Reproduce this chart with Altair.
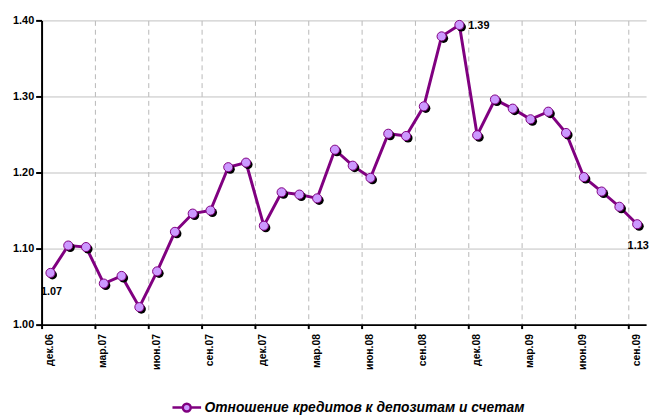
import json
import altair as alt
import pandas as pd

series_name = "Отношение кредитов к депозитам и счетам"

months = ["дек.06", "янв.07", "фев.07", "мар.07", "апр.07", "май.07", "июн.07",
          "июл.07", "авг.07", "сен.07", "окт.07", "ноя.07", "дек.07", "янв.08",
          "фев.08", "мар.08", "апр.08", "май.08", "июн.08", "июл.08", "авг.08",
          "сен.08", "окт.08", "ноя.08", "дек.08", "янв.09", "фев.09", "мар.09",
          "апр.09", "май.09", "июн.09", "июл.09", "авг.09", "сен.09"]

values = [1.068, 1.104, 1.102, 1.054, 1.064, 1.023, 1.070, 1.122, 1.146, 1.150,
          1.207, 1.213, 1.130, 1.174, 1.171, 1.166, 1.230, 1.209, 1.193, 1.251,
          1.248, 1.287, 1.379, 1.394, 1.249, 1.296, 1.284, 1.270, 1.280, 1.252,
          1.194, 1.175, 1.155, 1.132]

tick_labels = ["дек.06", "мар.07", "июн.07", "сен.07", "дек.07", "мар.08",
               "июн.08", "сен.08", "дек.08", "мар.09", "июн.09", "сен.09"]

y_ticks = [1.00, 1.10, 1.20, 1.30, 1.40]

df = pd.DataFrame({"idx": list(range(len(months))), "month": months, "value": values})

FONT = "Liberation Sans"
PURPLE = "#800080"
LIGHT = "#CC99FF"

x_enc = alt.X(
    "xpos:Q",
    scale=alt.Scale(domain=[0, len(months)], nice=False, zero=False),
    axis=alt.Axis(
        values=list(range(0, len(months), 3)),
        labelExpr=json.dumps(tick_labels, ensure_ascii=False) + "[round(datum.value/3)]",
        labelAngle=-90, labelOffset=8,
        labelFont=FONT, labelFontSize=10.5, labelFontWeight="bold", labelColor="black",
        labelPadding=5,
        tickSize=4, tickColor="black", tickWidth=2,
        domainColor="black", domainWidth=2,
        grid=True, gridDash=[5, 4], gridColor="#b8b8b8", gridWidth=1,
        title=None,
    ),
)
y_enc = alt.Y(
    "value:Q",
    scale=alt.Scale(domain=[1.0, 1.4], nice=False, zero=False),
    axis=alt.Axis(
        values=y_ticks, format=".2f",
        labelFont=FONT, labelFontSize=11, labelFontWeight="bold", labelColor="black",
        labelPadding=2,
        tickSize=6, tickColor="black", tickWidth=2,
        domainColor="black", domainWidth=2,
        grid=True, gridColor="#c0c0c0", gridWidth=1,
        title=None,
    ),
)

base = alt.Chart(df).transform_calculate(
    xpos="datum.idx + 0.5", series="'" + series_name + "'"
)

legend_path = ("M-2.9,0H-0.8M0.8,0H2.9"
               "M-0.8,0A0.8,0.8,0,1,0,0.8,0A0.8,0.8,0,1,0,-0.8,0Z")

line = base.mark_line(strokeWidth=3).encode(
    x=x_enc, y=y_enc,
    color=alt.Color(
        "series:N",
        scale=alt.Scale(range=[PURPLE]),
        legend=alt.Legend(
            title=None, orient="none", legendX=140, legendY=385, padding=0,
            symbolType=legend_path, symbolSize=100, symbolStrokeWidth=2.5,
            symbolFillColor=LIGHT, symbolStrokeColor=PURPLE,
            labelFont=FONT, labelFontSize=14, labelFontWeight="bold",
            labelFontStyle="italic", labelColor="black", labelOffset=11,
            labelLimit=500,
        ),
    ),
)

shadow = base.mark_circle(color="black", size=85, opacity=1, xOffset=2, yOffset=2).encode(
    x="xpos:Q", y="value:Q"
)
points = base.mark_point(
    filled=True, shape="circle", size=85, fill=LIGHT, stroke=PURPLE,
    strokeWidth=1, opacity=1
).encode(x="xpos:Q", y="value:Q")

txt_style = dict(font=FONT, fontSize=11, fontWeight="bold", color="black", baseline="middle")
lab_first = base.transform_filter("datum.idx == 0").mark_text(
    align="center", dx=1, dy=19, **txt_style
).encode(x="xpos:Q", y="value:Q", text=alt.Text("value:Q", format=".2f"))
lab_peak = base.transform_filter("datum.idx == 23").mark_text(
    align="left", dx=9, dy=1, **txt_style
).encode(x="xpos:Q", y="value:Q", text=alt.Text("value:Q", format=".2f"))
lab_last = base.transform_filter("datum.idx == 33").mark_text(
    align="center", dx=1, dy=22, **txt_style
).encode(x="xpos:Q", y="value:Q", text=alt.Text("value:Q", format=".2f"))

chart = alt.layer(line, shadow, points, lab_first, lab_peak, lab_last).properties(
    width=612, height=308,
    autosize=alt.AutoSizeParams(type="none"),
    padding={"left": 34, "top": 10, "right": 6, "bottom": 94},
).configure_view(stroke=None)

chart.save("out.html", embed_options={"renderer": "svg", "actions": False})
